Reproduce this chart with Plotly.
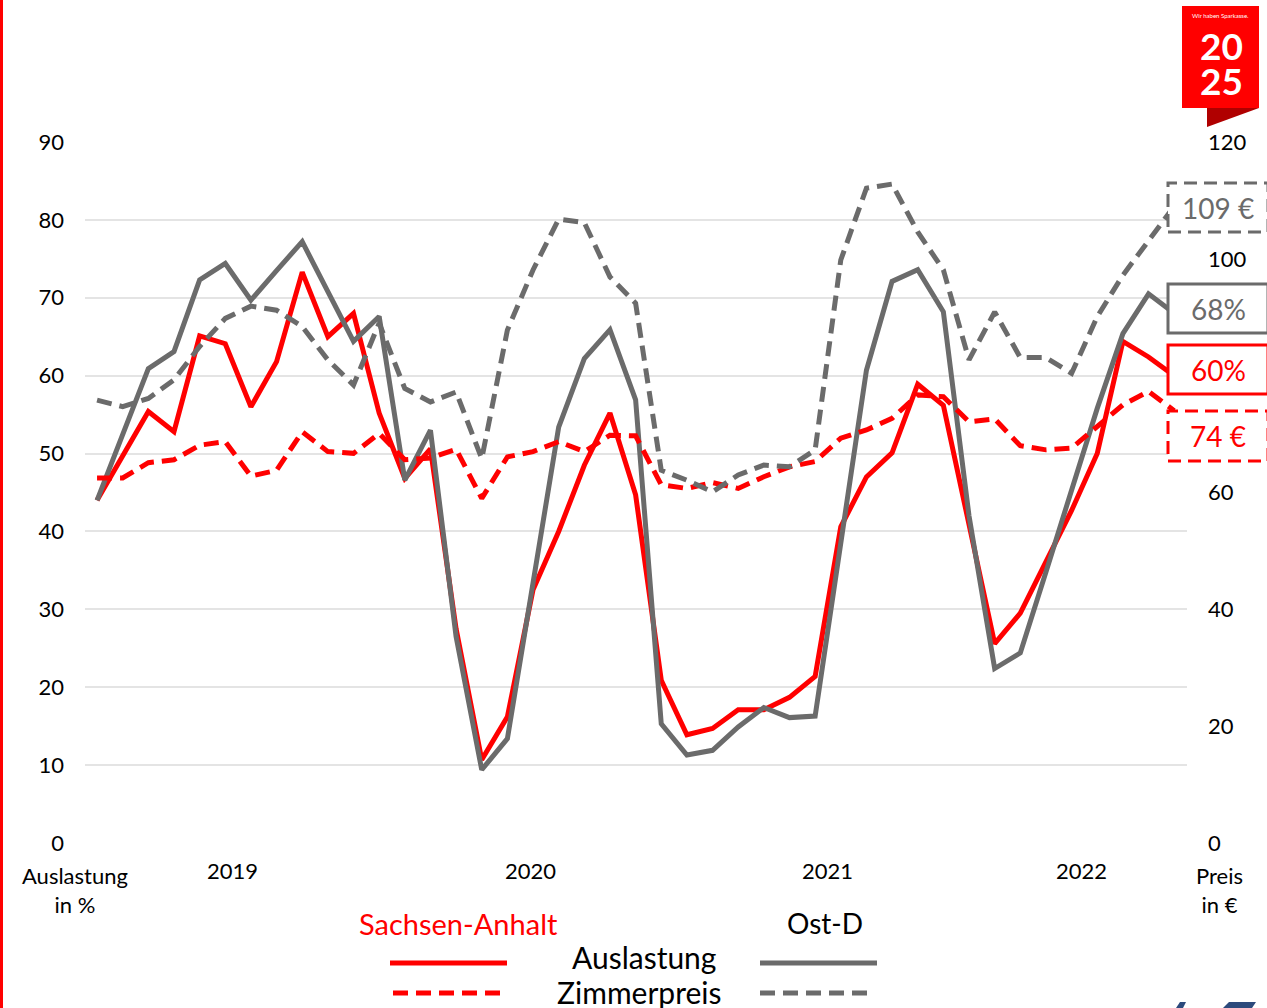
import plotly.graph_objects as go

# ---------------- data ----------------
months = [f"{y}-{m:02d}" for y in (2019, 2020, 2021, 2022) for m in range(1, 13)][:43]
year_labels = ["2019", "2020", "2021", "2022"]
year_label_idx = [5.3, 16.9, 28.5, 38.4]
price_ticks = [0, 20, 40, 60, 100, 120]

sa_occ = [44.0, 49.8, 55.4, 52.8, 65.1, 64.1, 56.0, 61.8, 73.3, 65.0,
          68.0, 55.2, 46.8, 50.6, 27.5, 10.7, 16.2, 32.5, 40.0, 48.5,
          55.2, 44.7, 20.9, 13.9, 14.7, 17.1, 17.1, 18.7, 21.4, 40.6,
          47.0, 50.1, 58.9, 56.2, 41.0, 25.6, 29.5, 36.0, 42.7, 50.0,
          64.4, 62.4, 60.0]
od_occ = [44.0, 52.3, 60.9, 63.1, 72.3, 74.4, 69.7, 73.5, 77.2, 70.8,
          64.4, 67.6, 46.6, 53.0, 26.5, 9.4, 13.4, 33.4, 53.4, 62.2,
          65.9, 56.9, 15.3, 11.3, 11.9, 14.9, 17.4, 16.1, 16.3, 38.5,
          60.7, 72.1, 73.6, 68.2, 42.0, 22.4, 24.4, 34.8, 45.5, 55.8,
          65.4, 70.5, 68.0]
sa_price = [62.5, 62.5, 65.1, 65.6, 68.1, 68.7, 62.8, 63.8, 70.4, 67.0,
            66.7, 70.1, 65.6, 65.9, 67.4, 59.0, 66.1, 67.0, 68.7, 67.0,
            69.8, 69.7, 61.3, 60.7, 61.7, 60.7, 62.7, 64.4, 65.3, 69.3,
            70.7, 72.7, 76.7, 76.4, 72.1, 72.6, 68.0, 67.3, 67.6, 71.3,
            75.0, 77.3, 74.0]
od_price = [75.8, 74.7, 76.1, 79.3, 85.0, 89.8, 91.9, 91.2, 88.4, 82.7,
            78.4, 89.0, 77.8, 75.5, 77.2, 65.8, 87.8, 98.1, 106.8, 106.2,
            96.9, 92.4, 63.8, 62.1, 60.1, 63.0, 64.7, 64.4, 67.3, 99.8,
            112.1, 112.8, 104.6, 98.1, 82.7, 90.9, 83.1, 83.1, 80.4, 90.1,
            97.2, 103.1, 109.0]

# ---------------- styling ----------------
RED = "#ff0000"
GRAY = "#6b6b6b"
FONT = "Lato"
W, H = 1267, 1008
L, R, T, B = 85, 80, 142, 165
PW, PH = W - L - R, H - T - B
x = list(range(len(months)))
DASH = "15px,8px"


def px(xp):
    return (xp - L) / PW


def py(yp):
    return (H - B - yp) / PH


def label(xp, yp, text, size, color="#000", bold=False):
    return dict(x=px(xp), y=py(yp), xref="paper", yref="paper",
                text=f"<b>{text}</b>" if bold else text, showarrow=False,
                xanchor="center", yanchor="middle", align="center",
                font=dict(family=FONT, size=size, color=color))


fig = go.Figure()
fig.add_trace(go.Scatter(x=x, y=sa_price, yaxis="y2", mode="lines",
                         line=dict(color=RED, width=5, dash=DASH)))
fig.add_trace(go.Scatter(x=x, y=od_price, yaxis="y2", mode="lines",
                         line=dict(color=GRAY, width=5, dash=DASH)))
fig.add_trace(go.Scatter(x=x, y=sa_occ, mode="lines",
                         line=dict(color=RED, width=5)))
fig.add_trace(go.Scatter(x=x, y=od_occ, mode="lines",
                         line=dict(color=GRAY, width=5)))

shapes = []
annotations = []

# year labels
for lab, pos in zip(year_labels, year_label_idx):
    annotations.append(dict(x=pos, xref="x", y=py(871), yref="paper", text=lab,
                            showarrow=False, font=dict(family=FONT, size=22, color="#000"),
                            xanchor="center", yanchor="middle"))

# axis titles
annotations.append(label(75, 890, "Auslastung<br>in %", 22))
annotations.append(label(1219, 890, "Preis<br>in €", 22))

# end-value boxes
boxes = [
    (f"{od_price[-1]:.0f} €", GRAY, "dash", 183, 232),
    (f"{od_occ[-1]:.0f}%", GRAY, "solid", 284, 333),
    (f"{sa_occ[-1]:.0f}%", RED, "solid", 345, 394),
    (f"{sa_price[-1]:.0f} €", RED, "dash", 411, 461),
]
for text, col, dash, y0, y1 in boxes:
    shapes.append(dict(type="rect", xref="paper", yref="paper",
                       x0=px(1168), x1=px(1268), y0=py(y1), y1=py(y0),
                       fillcolor="white",
                       line=dict(color=col, width=3, dash="13px,7px" if dash == "dash" else "solid"),
                       layer="above"))
    annotations.append(label(1218, (y0 + y1) / 2, text, 28, col))

# legend
annotations.append(label(458, 923, "Sachsen-Anhalt", 29, RED))
annotations.append(label(825, 923, "Ost-D", 28))
annotations.append(label(644, 957, "Auslastung", 30))
annotations.append(label(639, 992, "Zimmerpreis", 30))
for (x0, x1, yy, col, dash) in [(390, 507, 963, RED, "solid"), (393, 507, 993, RED, "dash"),
                                (760, 877, 963, GRAY, "solid"), (760, 872, 993, GRAY, "dash")]:
    shapes.append(dict(type="line", xref="paper", yref="paper",
                       x0=px(x0), x1=px(x1), y0=py(yy), y1=py(yy),
                       line=dict(color=col, width=5, dash=DASH if dash == "dash" else "solid")))

# left red border
shapes.append(dict(type="rect", xref="paper", yref="paper",
                   x0=px(0), x1=px(3), y0=py(H), y1=py(0),
                   fillcolor=RED, line=dict(width=0), layer="above"))

# logo top right
shapes.append(dict(type="rect", xref="paper", yref="paper",
                   x0=px(1182), x1=px(1259), y0=py(108), y1=py(6),
                   fillcolor=RED, line=dict(width=0), layer="above"))
shapes.append(dict(type="path", xref="paper", yref="paper",
                   path=f"M {px(1207)} {py(108)} L {px(1259)} {py(108)} L {px(1207)} {py(127)} Z",
                   fillcolor="#b00000", line=dict(width=0), layer="above"))
annotations.append(label(1220, 16, "Wir haben Sparkasse.", 6, "white"))
annotations.append(label(1221, 46, "20", 37, "white", bold=True))
annotations.append(label(1221, 81, "25", 37, "white", bold=True))

# partial logo bottom right
shapes.append(dict(type="path", xref="paper", yref="paper",
                   path=f"M {px(1176)} {py(1008)} L {px(1180)} {py(1002)} L {px(1186)} {py(1002)} L {px(1183)} {py(1008)} Z",
                   fillcolor="#2c4a7c", line=dict(width=0), layer="above"))
shapes.append(dict(type="path", xref="paper", yref="paper",
                   path=f"M {px(1223)} {py(1008)} L {px(1229)} {py(1002)} L {px(1256)} {py(1002)} L {px(1252)} {py(1008)} Z",
                   fillcolor="#2c4a7c", line=dict(width=0), layer="above"))

fig.update_layout(
    width=W, height=H,
    margin=dict(l=L, r=R, t=T, b=B, pad=0),
    paper_bgcolor="white", plot_bgcolor="white",
    showlegend=False,
    font=dict(family=FONT, size=22, color="#000"),
    xaxis=dict(range=[-0.47, 42.5], showticklabels=False, showgrid=False,
               zeroline=False, showline=False, ticks=""),
    yaxis=dict(range=[0, 90], dtick=10, showgrid=True, gridcolor="#e4e4e4", gridwidth=2,
               zeroline=False, showline=False, ticks="", ticklabelstandoff=20,
               tickfont=dict(family=FONT, size=22, color="#000")),
    yaxis2=dict(range=[0, 120], tickvals=price_ticks, overlaying="y", side="right", showgrid=False,
                zeroline=False, showline=False, ticks="", ticklabelstandoff=20,
                tickfont=dict(family=FONT, size=22, color="#000")),
    shapes=shapes,
    annotations=annotations,
)

fig.write_html("out.html", config={"displayModeBar": False},
               post_script="document.body.style.margin='0';document.body.style.overflow='hidden';")
